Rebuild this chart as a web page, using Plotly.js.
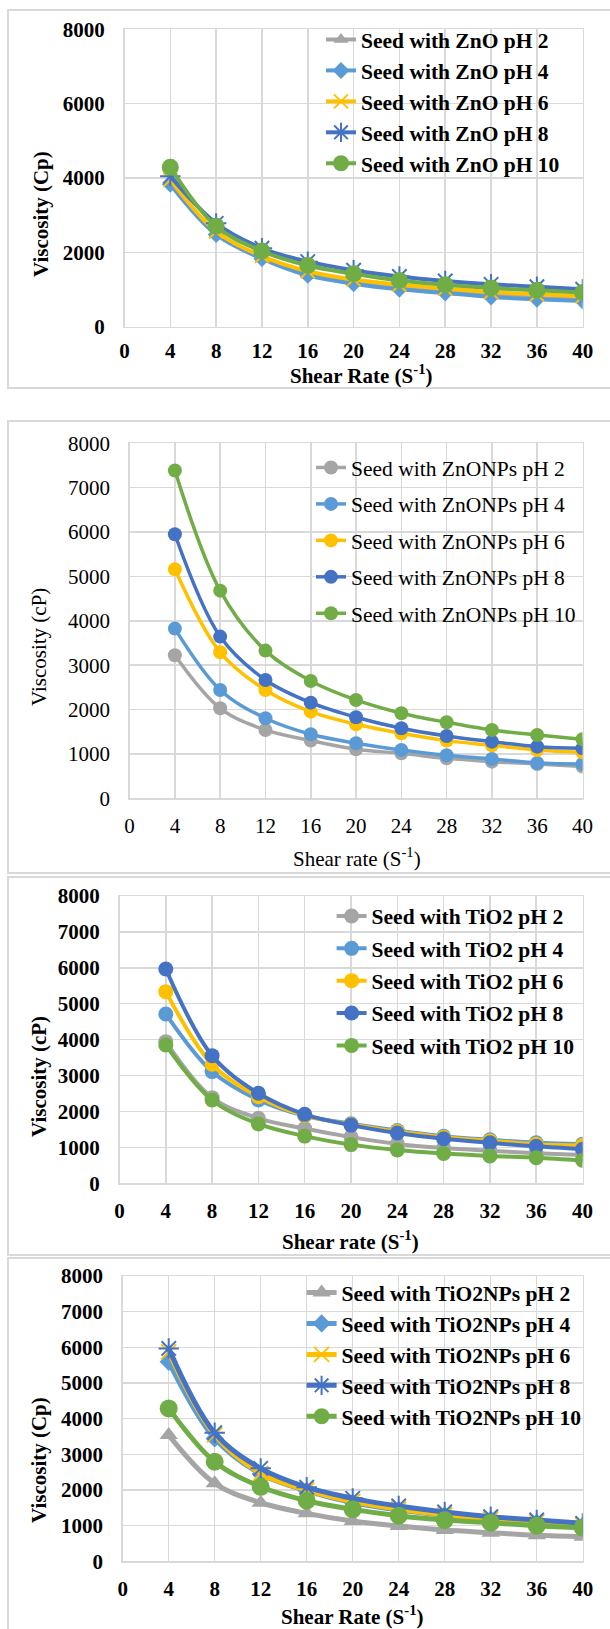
<!DOCTYPE html>
<html>
<head>
<meta charset="utf-8">
<script src="https://cdn.plot.ly/plotly-3.0.1.min.js"></script>
<style>html,body{margin:0;padding:0;background:#fff;}#chart{width:610px;height:1629px;}</style>
</head>
<body>
<div id="chart"></div>
<script>
// ---------- data ----------
var shearRate = [4, 8, 12, 16, 20, 24, 28, 32, 36, 40];
var xTicks = [0, 4, 8, 12, 16, 20, 24, 28, 32, 36, 40];

var pHLabels = ['pH 2', 'pH 4', 'pH 6', 'pH 8', 'pH 10'];

// Panel 1: Seed with ZnO
var zno_pH2  = [3900, 2500, 1860, 1420, 1200, 1050, 950, 850, 780, 730];
var zno_pH4  = [3830, 2480, 1830, 1380, 1157, 1005, 907, 800, 739, 693];
var zno_pH6  = [3950, 2560, 1900, 1493, 1272, 1130, 1024, 933, 872, 819];
var zno_pH8  = [4050, 2780, 2110, 1750, 1520, 1350, 1230, 1140, 1075, 1010];
var zno_pH10 = [4290, 2700, 2035, 1645, 1424, 1245, 1130, 1040, 979, 917];

// Panel 2: Seed with ZnONPs
var znonp_pH2  = [3223, 2028, 1540, 1300, 1104, 1014, 901, 826, 774, 714];
var znonp_pH4  = [3824, 2442, 1803, 1442, 1240, 1089, 969, 886, 796, 774];
var znonp_pH6  = [5160, 3290, 2442, 1953, 1668, 1465, 1300, 1194, 1089, 1037];
var znonp_pH8  = [5950, 3644, 2667, 2156, 1826, 1578, 1405, 1277, 1164, 1127];
var znonp_pH10 = [7386, 4680, 3328, 2645, 2216, 1916, 1713, 1540, 1427, 1330];

// Panel 3: Seed with TiO2
var tio2_pH2  = [3945, 2385, 1810, 1525, 1286, 1097, 983, 906, 840, 791];
var tio2_pH4  = [4716, 3110, 2320, 1880, 1660, 1470, 1310, 1210, 1130, 1090];
var tio2_pH6  = [5337, 3315, 2413, 1890, 1640, 1440, 1280, 1180, 1090, 1050];
var tio2_pH8  = [5969, 3555, 2507, 1920, 1620, 1400, 1240, 1126, 1029, 950];
var tio2_pH10 = [3852, 2320, 1652, 1314, 1077, 926, 829, 763, 714, 640];

// Panel 4: Seed with TiO2NPs
var tio2np_pH2  = [3540, 2188, 1644, 1347, 1130, 992, 880, 804, 730, 690];
var tio2np_pH4  = [5594, 3448, 2450, 1980, 1650, 1440, 1290, 1170, 1080, 1000];
var tio2np_pH6  = [5874, 3550, 2468, 2000, 1680, 1470, 1310, 1190, 1100, 1020];
var tio2np_pH8  = [5970, 3605, 2608, 2080, 1767, 1552, 1384, 1252, 1160, 1067];
var tio2np_pH10 = [4289, 2793, 2092, 1700, 1459, 1280, 1160, 1085, 1000, 944];

var panelPrefix = ['Seed with ZnO ', 'Seed with ZnONPs ', 'Seed with TiO2 ', 'Seed with TiO2NPs '];
var xTitles = ['Shear Rate (S<sup>-1</sup>)', 'Shear rate (S<sup>-1</sup>)', 'Shear rate (S<sup>-1</sup>)', 'Shear Rate (S<sup>-1</sup>)'];
var yTitles = ['Viscosity (Cp)', 'Viscosity (cP)', 'Viscosity (cP)', 'Viscosity (Cp)'];

// ---------- styling ----------
var W = 610, H = 1629;
function px(x) { return x / W; }
function py(y) { return 1 - y / H; }

var colors = ['#A5A5A5', '#5B9BD5', '#FFC000', '#4472C4', '#70AD47'];
var FONT = '"Liberation Serif", "Times New Roman", Tinos, Times, "DejaVu Serif", serif';

var panelSeries = [
  [zno_pH2, zno_pH4, zno_pH6, zno_pH8, zno_pH10],
  [znonp_pH2, znonp_pH4, znonp_pH6, znonp_pH8, znonp_pH10],
  [tio2_pH2, tio2_pH4, tio2_pH6, tio2_pH8, tio2_pH10],
  [tio2np_pH2, tio2np_pH4, tio2np_pH6, tio2np_pH8, tio2np_pH10]
];

var panels = [
  { plot: [124.5, 29.3, 582.7, 326.7], frame: [10, 388], dtick: 2000, bold: true,
    xt: [361, 375], yt: [41, 214], leg: [321, 19], gap: 0, lw: 4, xstand: 5,
    symbols: ['triangle-up', 'diamond', 'x-thin-open', 'asterisk-open', 'circle'],
    sizes: [13, 13, 14, 17, 17] },
  { plot: [129.6, 443.3, 582.5, 798.3], frame: [421, 873], dtick: 1000, bold: false,
    xt: [357, 857], yt: [39, 647], leg: [311, 447], gap: 5.5, lw: 3.5, xstand: 8,
    symbols: ['circle', 'circle', 'circle', 'circle', 'circle'],
    sizes: [14, 14, 14, 14, 14] },
  { plot: [119.5, 896, 582.5, 1183.3], frame: [877, 1255], dtick: 1000, bold: true,
    xt: [351, 1240], yt: [39, 1077], leg: [331.6, 895.5], gap: 1.4, lw: 4, xstand: 8,
    symbols: ['circle', 'circle', 'circle', 'circle', 'circle'],
    sizes: [15, 15, 15, 15, 15] },
  { plot: [122.7, 1276, 582.7, 1561.4], frame: [1258, 1645], dtick: 1000, bold: true,
    xt: [352, 1615], yt: [39, 1460], leg: [301.6, 1272], gap: 0, lw: 5, xstand: 8,
    symbols: ['triangle-up', 'diamond', 'x-thin-open', 'asterisk-open', 'circle'],
    sizes: [16, 14, 15, 17, 18] }
];

var traces = [];
var layout = {
  width: W, height: H,
  margin: { l: 0, r: 0, t: 0, b: 0 },
  paper_bgcolor: '#ffffff', plot_bgcolor: '#ffffff',
  showlegend: true,
  font: { family: FONT },
  shapes: [], annotations: []
};

panels.forEach(function (p, i) {
  var n = i + 1;
  var xa = 'xaxis' + (n === 1 ? '' : n), ya = 'yaxis' + (n === 1 ? '' : n);
  var xr = 'x' + (n === 1 ? '' : n), yr = 'y' + (n === 1 ? '' : n);
  var legName = 'legend' + (n === 1 ? '' : n);
  var weight = p.bold ? 'bold' : 'normal';
  var tickFont = { family: FONT, size: 21, color: '#000000', weight: weight };

  layout[xa] = {
    domain: [px(p.plot[0]), px(p.plot[2])], anchor: yr,
    range: [0, 40], tickmode: 'array', tickvals: xTicks, ticktext: xTicks.map(String),
    showgrid: true, gridcolor: '#d9d9d9', gridwidth: 1.5,
    showline: true, mirror: true, linecolor: '#d9d9d9', linewidth: 1.5,
    zeroline: false, ticks: '', tickfont: tickFont, ticklabelstandoff: p.xstand, fixedrange: true
  };
  layout[ya] = {
    domain: [py(p.plot[3]), py(p.plot[1])], anchor: xr,
    range: [0, 8000], tick0: 0, dtick: p.dtick,
    showgrid: true, gridcolor: '#d9d9d9', gridwidth: 1.5,
    showline: true, mirror: true, linecolor: '#d9d9d9', linewidth: 1.5,
    zeroline: false, ticks: '', tickfont: tickFont, ticklabelstandoff: 14, fixedrange: true
  };
  layout[legName] = {
    x: px(p.leg[0]), y: py(p.leg[1]), xanchor: 'left', yanchor: 'top',
    bgcolor: 'rgba(0,0,0,0)', borderwidth: 0, traceorder: 'grouped',
    tracegroupgap: p.gap,
    font: { family: FONT, size: 21.5, color: '#000000', weight: weight }
  };

  panelSeries[i].forEach(function (vals, k) {
    var sym = p.symbols[k];
    var isOpen = sym.indexOf('open') >= 0;
    traces.push({
      type: 'scatter', mode: 'lines+markers',
      x: shearRate, y: vals, xaxis: xr, yaxis: yr,
      name: panelPrefix[i] + pHLabels[k],
      legend: legName, legendgroup: 'g' + n + '_' + k,
      line: { color: colors[k], width: p.lw, shape: 'spline', smoothing: 1 },
      marker: {
        symbol: sym, size: p.sizes[k], color: colors[k],
        line: { color: colors[k], width: isOpen ? 2 : 0 }
      },
      hoverinfo: 'x+y+name'
    });
  });

  layout.shapes.push({
    type: 'rect', xref: 'paper', yref: 'paper', layer: 'below',
    x0: px(8), x1: 1.05, y0: py(p.frame[1]), y1: py(p.frame[0]),
    line: { color: '#d9d9d9', width: 2 }, fillcolor: 'rgba(0,0,0,0)'
  });

  layout.annotations.push({
    xref: 'paper', yref: 'paper', x: px(p.xt[0]), y: py(p.xt[1]),
    xanchor: 'center', yanchor: 'middle', showarrow: false,
    text: xTitles[i], font: { family: FONT, size: 21, color: '#000000', weight: weight }
  });
  layout.annotations.push({
    xref: 'paper', yref: 'paper', x: px(p.yt[0]), y: py(p.yt[1]),
    xanchor: 'center', yanchor: 'middle', showarrow: false, textangle: -90,
    text: yTitles[i], font: { family: FONT, size: 21, color: '#000000', weight: weight }
  });
});

Plotly.newPlot('chart', traces, layout, { displayModeBar: false, staticPlot: true });
</script>
</body>
</html>
